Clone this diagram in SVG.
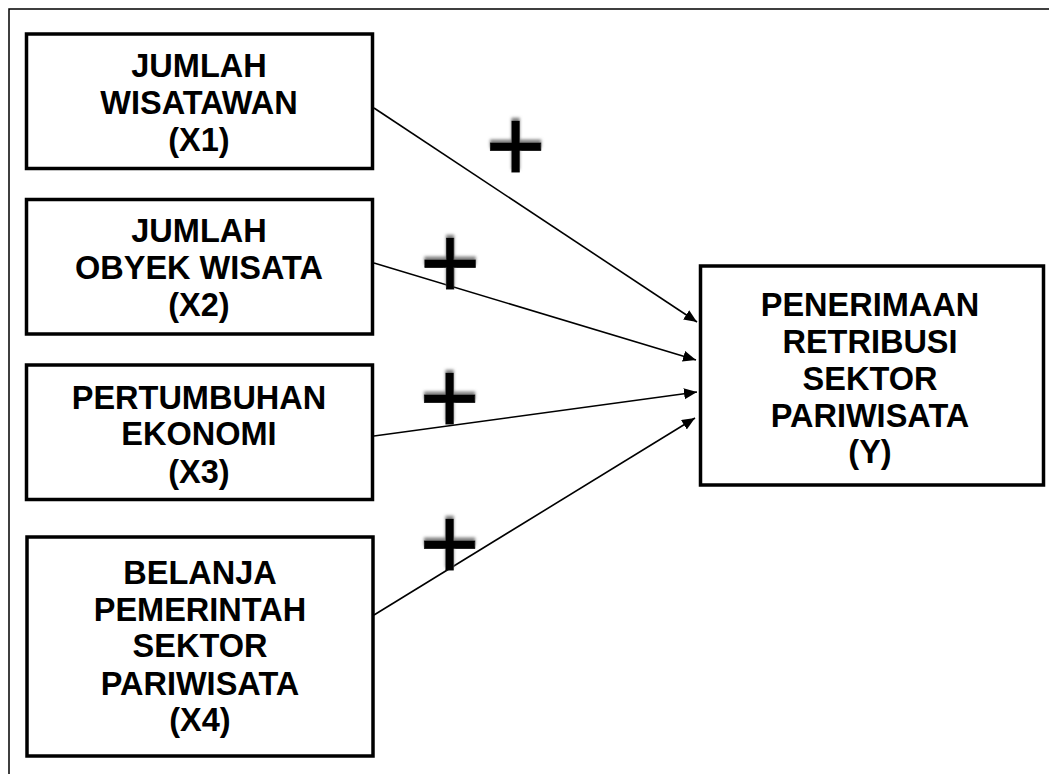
<svg xmlns="http://www.w3.org/2000/svg" width="1049" height="774" viewBox="0 0 1049 774">
<style>
.box{fill:#fff;stroke:#000;stroke-width:3.5;}
.lbl{font-family:"Liberation Sans",Arial,sans-serif;font-weight:bold;font-size:32.5px;text-anchor:middle;fill:#000;}
.conn{stroke:#000;stroke-width:1.6;fill:none;marker-end:url(#ah);}
.plus{font-family:"Liberation Sans",Arial,sans-serif;font-size:104px;text-anchor:middle;fill:#000;stroke:#000;stroke-width:0.8;filter:url(#glow);}
</style>
<defs>
<marker id="ah" markerUnits="userSpaceOnUse" markerWidth="14" markerHeight="12" refX="13" refY="5.5" orient="auto">
<path d="M0,0 L13,5.5 L0,11 z" fill="#000"/>
</marker>
<filter id="glow" x="-30%" y="-30%" width="160%" height="160%">
<feGaussianBlur in="SourceAlpha" stdDeviation="1.5" result="b"/>
<feOffset in="b" dx="0" dy="-3" result="o"/>
<feFlood flood-color="#808080"/>
<feComposite in2="o" operator="in" result="s"/>
<feMerge><feMergeNode in="s"/><feMergeNode in="SourceGraphic"/></feMerge>
</filter>
</defs>
<rect width="1049" height="774" fill="#fff"/>
<rect x="9" y="9" width="1100" height="820" fill="none" stroke="#000" stroke-width="1.5"/>
<g id="connectors">
<line class="conn" x1="374" y1="108" x2="697" y2="322"/>
<line class="conn" x1="374" y1="263" x2="696" y2="360"/>
<line class="conn" x1="374" y1="436" x2="697" y2="392"/>
<line class="conn" x1="374" y1="615" x2="695" y2="418"/>
</g>
<g id="x1">
<rect class="box" x="26.5" y="34" width="346" height="134.5"/>
<text class="lbl" x="199" y="76.5">JUMLAH</text>
<text class="lbl" x="199" y="113.5">WISATAWAN</text>
<text class="lbl" x="199" y="151">(X1)</text>
</g>
<g id="x2">
<rect class="box" x="26.5" y="199.5" width="346" height="134.5"/>
<text class="lbl" x="199" y="242">JUMLAH</text>
<text class="lbl" x="199" y="279">OBYEK WISATA</text>
<text class="lbl" x="199" y="316">(X2)</text>
</g>
<g id="x3">
<rect class="box" x="26.5" y="365" width="346" height="134.5"/>
<text class="lbl" x="199" y="408.5">PERTUMBUHAN</text>
<text class="lbl" x="199" y="445">EKONOMI</text>
<text class="lbl" x="199" y="482.5">(X3)</text>
</g>
<g id="x4">
<rect class="box" x="27" y="537" width="346" height="219"/>
<text class="lbl" x="200" y="583.5">BELANJA</text>
<text class="lbl" x="200" y="620.5">PEMERINTAH</text>
<text class="lbl" x="200" y="657">SEKTOR</text>
<text class="lbl" x="200" y="694.5">PARIWISATA</text>
<text class="lbl" x="200" y="731">(X4)</text>
</g>
<g id="y">
<rect class="box" x="700.5" y="266" width="343" height="219"/>
<text class="lbl" x="870" y="316">PENERIMAAN</text>
<text class="lbl" x="870" y="353">RETRIBUSI</text>
<text class="lbl" x="870" y="389.5">SEKTOR</text>
<text class="lbl" x="870" y="426.5">PARIWISATA</text>
<text class="lbl" x="870" y="463">(Y)</text>
</g>
<g id="signs">
<text class="plus" x="515.5" y="181">+</text>
<text class="plus" x="450" y="297.5">+</text>
<text class="plus" x="449.5" y="432.5">+</text>
<text class="plus" x="449.5" y="579">+</text>
</g>
</svg>
